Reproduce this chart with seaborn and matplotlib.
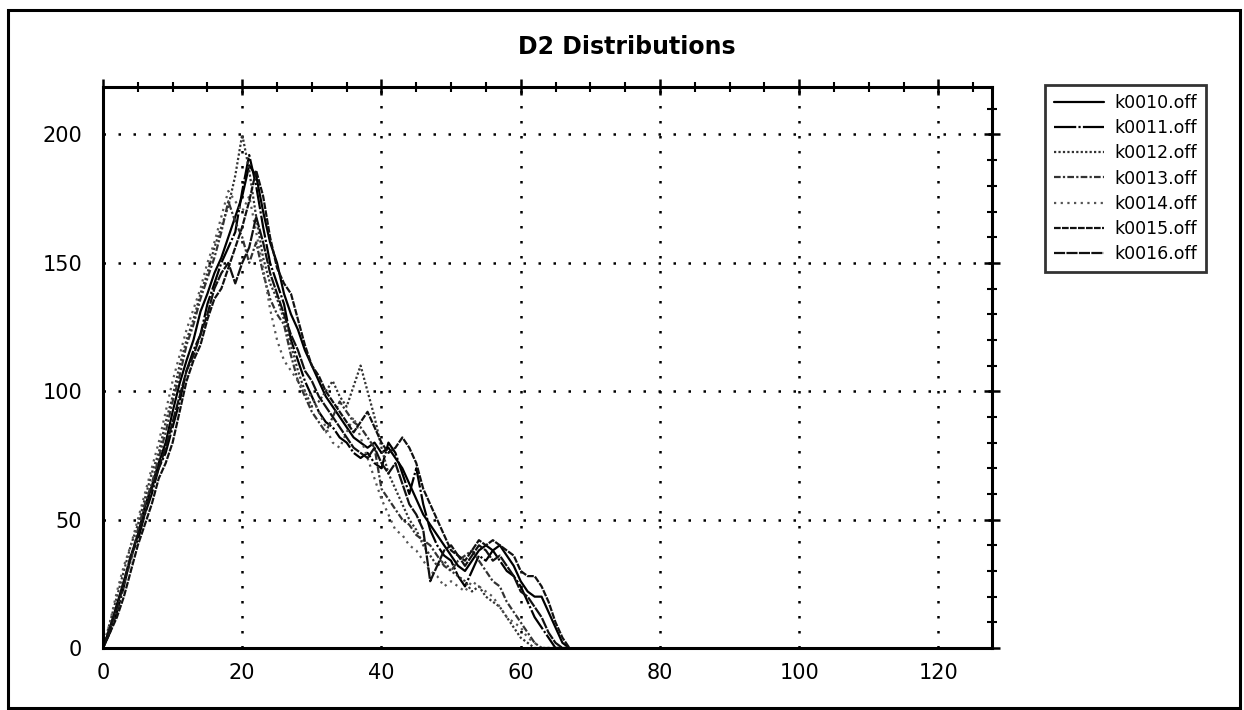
import matplotlib
matplotlib.use("Agg")
import matplotlib.pyplot as plt
import seaborn as sns
import numpy as np
import pandas as pd
from matplotlib.patches import Rectangle
from matplotlib.ticker import MultipleLocator

# ---------------- data ----------------
distance = list(range(68))

k0010 = [0, 8, 17, 26, 35, 44, 55, 63, 72, 80, 92, 103, 112, 120, 131, 138, 146, 152, 160, 168,
         176, 188, 184, 170, 158, 150, 138, 130, 124, 116, 110, 104, 98, 94, 90, 86, 82, 80, 78, 80,
         76, 78, 74, 70, 64, 58, 52, 48, 44, 40, 36, 32, 30, 34, 38, 40, 38, 40, 36, 32,
         26, 22, 20, 20, 14, 8, 2, 0]
k0011 = [0, 6, 14, 24, 36, 42, 52, 60, 70, 76, 86, 96, 108, 116, 122, 134, 142, 150, 156, 162,
         178, 192, 180, 164, 150, 142, 134, 120, 112, 104, 98, 92, 88, 86, 82, 80, 76, 74, 76, 72,
         70, 80, 76, 68, 60, 70, 56, 46, 40, 36, 34, 28, 24, 30, 36, 34, 38, 34, 30, 28,
         24, 18, 12, 8, 4, 0, 0, 0]
k0012 = [0, 10, 20, 30, 40, 48, 58, 68, 76, 88, 98, 110, 120, 128, 138, 146, 156, 164, 172, 184,
         200, 186, 168, 152, 142, 136, 128, 118, 108, 100, 94, 96, 100, 104, 98, 94, 102, 110, 100, 90,
         78, 68, 62, 56, 50, 46, 40, 36, 32, 34, 30, 28, 26, 22, 24, 20, 18, 16, 12, 8,
         4, 2, 0, 0, 0, 0, 0, 0]
k0013 = [0, 7, 15, 25, 34, 46, 56, 64, 74, 84, 96, 106, 118, 126, 136, 144, 152, 162, 174, 166,
         160, 150, 158, 146, 136, 130, 126, 114, 104, 98, 92, 88, 84, 90, 96, 92, 88, 86, 82, 78,
         62, 58, 54, 50, 48, 44, 42, 40, 36, 32, 30, 34, 36, 38, 34, 30, 26, 24, 18, 14,
         10, 6, 2, 0, 0, 0, 0, 0]
k0014 = [0, 10, 22, 32, 40, 50, 60, 70, 80, 92, 104, 114, 124, 132, 140, 150, 158, 168, 178, 174,
         170, 176, 162, 148, 132, 120, 112, 108, 104, 100, 98, 92, 86, 80, 78, 84, 90, 82, 74, 66,
         58, 52, 46, 44, 40, 38, 34, 30, 28, 24, 26, 24, 22, 26, 24, 22, 20, 16, 12, 10,
         8, 4, 2, 0, 0, 0, 0, 0]
k0015 = [0, 6, 12, 20, 30, 40, 48, 56, 66, 72, 80, 92, 104, 112, 118, 128, 136, 140, 148, 156,
         164, 174, 186, 176, 160, 148, 142, 138, 128, 118, 110, 106, 100, 96, 92, 88, 84, 88, 92, 86,
         80, 76, 78, 82, 78, 72, 62, 56, 50, 44, 38, 36, 34, 38, 42, 40, 42, 40, 38, 36,
         30, 28, 28, 24, 18, 10, 4, 0]
k0016 = [0, 8, 16, 26, 36, 44, 52, 62, 70, 78, 88, 98, 108, 114, 122, 130, 140, 146, 150, 142,
         150, 156, 168, 158, 146, 138, 130, 122, 116, 108, 104, 98, 94, 90, 86, 82, 78, 76, 74, 78,
         72, 68, 72, 64, 56, 52, 46, 26, 32, 38, 40, 36, 32, 36, 40, 38, 34, 36, 32, 28,
         22, 20, 16, 12, 6, 2, 0, 0]

series_names = ["k0010.off", "k0011.off", "k0012.off", "k0013.off",
                "k0014.off", "k0015.off", "k0016.off"]
series_values = [k0010, k0011, k0012, k0013, k0014, k0015, k0016]

x_ticks = [0, 20, 40, 60, 80, 100, 120]
y_ticks = [0, 50, 100, 150, 200]

# ---------------- style ----------------
sns.set_style("white")
plt.rcParams['font.family'] = ['DejaVu Sans']
plt.rcParams['text.color'] = 'black'

line_styles = ["-", (0, (10, 1, 1, 1)), (0, (1, 1)), (0, (3, 1, 1, 1)),
               (0, (1, 2)), (0, (3, 0.6)), (0, (5, 0.6))]
line_colors = ["#000000", "#000000", "#333333", "#333333", "#555555", "#111111", "#111111"]

fig = plt.figure(figsize=(12.44, 7.10), dpi=100)
ax = fig.add_axes([103 / 1244, 1 - 648 / 710, (992 - 103) / 1244, (648 - 87) / 710])

for name, vals, ls, col in zip(series_names, series_values, line_styles, line_colors):
    df = pd.DataFrame({"distance": distance, "count": vals})
    sns.lineplot(data=df, x="distance", y="count", ax=ax, color=col,
                 linestyle=ls, linewidth=1.6, label=name, legend=False)

ax.set_xlim(0, 127.7)
ax.set_ylim(0, 218.5)
ax.set_xticks(x_ticks)
ax.set_yticks(y_ticks)
ax.xaxis.set_minor_locator(MultipleLocator(5))
ax.yaxis.set_minor_locator(MultipleLocator(10))
ax.set_xlabel("")
ax.set_ylabel("")

ax.grid(True, which="major", color="black", linestyle=(0, (1, 5)), linewidth=1.8)
ax.set_axisbelow(True)

for sp in ax.spines.values():
    sp.set_color("black")
    sp.set_linewidth(2.2)

ax.tick_params(which="major", direction="inout", length=12, width=1.8,
               top=True, right=True, labelsize=15, colors="black")
ax.tick_params(axis="y", which="major", pad=9)
ax.tick_params(axis="x", which="major", pad=5)
ax.tick_params(which="minor", direction="inout", length=7, width=1.5,
               top=True, right=True, colors="black")

fig.text(627 / 1244, 1 - 47 / 710, "D2 Distributions", fontsize=17,
         fontweight="bold", ha="center", va="center", color="black")

handles, labels = ax.get_legend_handles_labels()
leg = fig.legend(handles, labels, loc="upper left",
                 bbox_to_anchor=(1045 / 1244, 1 - 85 / 710),
                 frameon=True, fancybox=False, shadow=False, fontsize=12.5,
                 handlelength=2.9, handletextpad=0.6, labelspacing=0.42,
                 borderpad=0.5, borderaxespad=0)
leg.get_frame().set_edgecolor("black")
leg.get_frame().set_linewidth(2)
for t in leg.get_texts():
    t.set_color("black")

fig.add_artist(Rectangle((8 / 1244, 2 / 710), (1240 - 8) / 1244, (700 - 2) / 710,
                         transform=fig.transFigure, fill=False,
                         edgecolor="black", linewidth=2.2))

fig.savefig("out.png", dpi=100, facecolor="white")
